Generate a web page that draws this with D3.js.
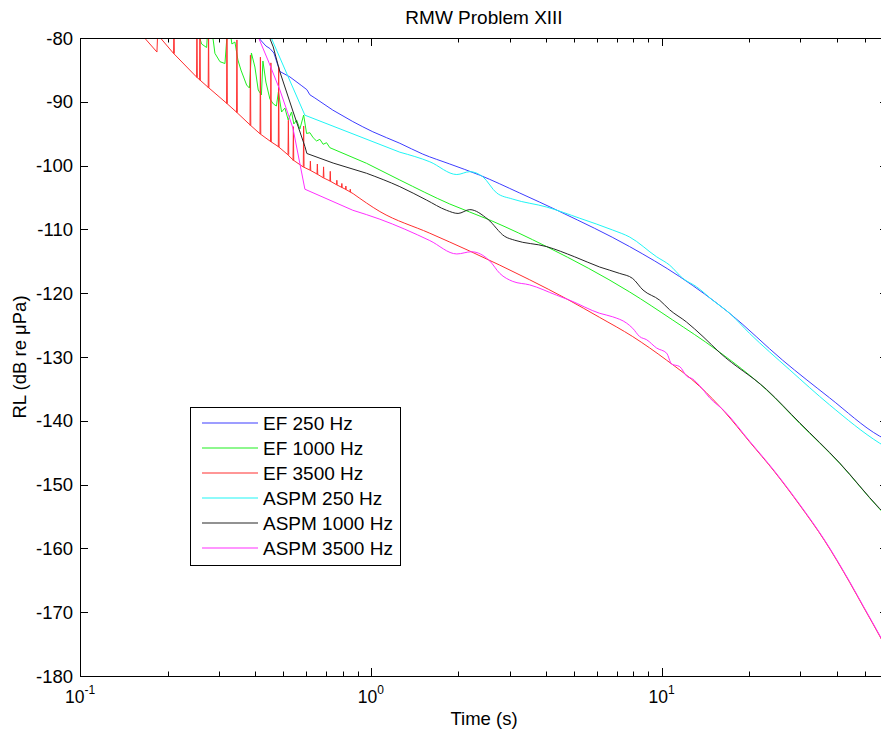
<!DOCTYPE html>
<html>
<head>
<meta charset="utf-8">
<script src="https://cdn.jsdelivr.net/npm/d3@7"></script>
<style>
  html, body { margin: 0; padding: 0; background: #fff; }
  svg { display: block; }
  text { font-family: "Liberation Sans", Arial, Helvetica, sans-serif; fill: #000; }
</style>
</head>
<body>
<script>
// ---------------- data (time in s, level in dB re 1 µPa) ----------------
const seriesNames = ["EF 250 Hz", "EF 1000 Hz", "EF 3500 Hz", "ASPM 250 Hz", "ASPM 1000 Hz", "ASPM 3500 Hz"];
const seriesColors = ["#3d3dff", "#1ff01f", "#ff2e2e", "#1ff5f5", "#262626", "#ff2eff"];

const ef250 = [[0.4025,-79.5],[0.4357,-81.25],[0.4497,-81.65],[0.4642,-82.35],[0.4867,-85.25],[0.5268,-86.1],
  [0.5792,-87.5],[0.6026,-88.1],[0.6171,-88.9],[0.642,-89.4],[0.740,-91.3],[0.867,-93.1],[1.016,-94.7],
  [1.258,-96.5],[1.509,-98.2],[1.868,-99.75],[2.369,-101.5],[3.251,-104.3],[4.462,-107.2],[7.762,-112.7],
  [11.53,-117.4],[17.13,-123.15],[26.05,-130.5],[37.78,-136.4],[56.13,-142.4],[60,-143.1]];

const ef1000 = [[0.2544,-79.06],[0.2619,-80.94],[0.2725,-81.49],[0.2749,-78.75],[0.2819,-78.75],[0.2871,-80.31],
  [0.2910,-82.4],[0.3028,-83.71],[0.3150,-84.0],[0.3213,-78.75],[0.3277,-78.75],[0.3329,-80.94],[0.3409,-80.63],
  [0.3491,-83.45],[0.3576,-85.02],[0.3740,-87.37],[0.3824,-87.84],[0.3885,-82.35],[0.3994,-84.55],[0.4100,-88.15],
  [0.4205,-88.93],[0.4255,-83.61],[0.4357,-86.9],[0.4497,-89.56],[0.4624,-90.34],[0.4735,-90.66],[0.4810,-88.46],
  [0.4933,-91.6],[0.5064,-90.97],[0.5198,-92.85],[0.5339,-91.6],[0.5437,-93.48],[0.5555,-92.85],[0.5702,-94.26],
  [0.5875,-92.07],[0.6012,-94.97],[0.6171,-94.84],[0.6335,-95.63],[0.6507,-96.14],[0.6679,-95.88],[0.6856,-96.66],
  [0.7043,-96.41],[0.7229,-97.19],[0.9665,-99.64],[1.258,-102.26],[1.868,-106.02],[2.564,-108.53],[4.026,-112.71],
  [7.762,-119.81],[10.91,-124.2],[15.45,-128.9],[22.95,-135.17],[29.8,-140.39],[40.9,-146.66],[56.13,-153.82],[60,-155.2]];

const ef3500 = [[0.1646,-79.7],[0.1839,-82.2],[0.1854,-78.0],[0.1891,-80.0],[0.2096,-82.4],[0.2514,-86.1],
  [0.2754,-87.7],[0.3188,-90.2],[0.3449,-91.6],[0.3839,-93.6],[0.4155,-95.0],[0.4515,-96.2],[0.4801,-97.0],
  [0.5185,-98.3],[0.5395,-99.1],[0.5852,-100.2],[0.6171,-100.7],[0.6522,-101.3],[0.6856,-101.9],[0.7229,-102.4],
  [0.7623,-103.0],[0.7932,-103.4],[0.8174,-103.7],[0.8468,-104.1],[0.8695,-104.4],[1.074,-107.2],[1.595,-110.6],
  [2.189,-113.4],[3.518,-117.9],[4.716,-120.9],[6.122,-123.8],[7.95,-126.8],[10.40,-130.5],[13.51,-134.6],
  [16.46,-138.6],[20.06,-143.3],[24.45,-148.0],[29.81,-153.2],[36.33,-158.8],[44.26,-165.3],[49.84,-169.5],
  [56.13,-173.7],[60,-176.2]];

// EF 3500 Hz narrow peaks: [time, base level, peak level]
const ef3500Peaks = [[0.2104,-82.45,-78],[0.2524,-86.2,-78],[0.2585,-86.6,-78],[0.2767,-87.8,-78],[0.3201,-90.3,-78],
  [0.3464,-91.7,-80.3],[0.3854,-93.7,-82.7],[0.4171,-95.05,-83.0],[0.4533,-96.3,-83.9],[0.4821,-97.1,-84.5],
  [0.5205,-98.3,-92.9],[0.5416,-99.2,-93.9],[0.5875,-100.2,-93.8],[0.6196,-100.7,-99.3],[0.6548,-101.35,-99.75],
  [0.6878,-101.9,-100.2],[0.7252,-102.45,-100.9],[0.7641,-103.0,-102.3],[0.7949,-103.45,-102.8],[0.8206,-103.75,-103.2],
  [0.8496,-104.15,-103.7]];

const aspm250 = [[0.4497,-79.5],[0.5933,-92.1],[1.258,-97.9],[1.595,-99.4],[1.975,-101.4],[2.189,-100.95],
  [2.426,-101.75],[2.710,-104.3],[3.076,-105.25],[4.026,-106.5],[5.226,-108.25],[6.785,-110.1],[7.762,-111.2],
  [9.612,-114.3],[10.65,-115.6],[11.81,-117.65],[13.19,-119.0],[14.98,-121.1],[17.13,-123.15],[20.06,-126.3],
  [27.54,-132.0],[37.78,-137.5],[56.13,-143.5],[60,-144.3]];

const aspm1000 = [[0.4462,-79.7],[0.4617,-81.4],[0.4867,-85.3],[0.5408,-91.6],[0.5933,-97.0],[0.6026,-98.1],
  [0.742,-99.6],[0.9665,-101.2],[1.258,-103.3],[1.554,-105.4],[1.82,-107.0],[1.995,-107.5],[2.189,-106.9],
  [2.524,-108.4],[2.887,-111.1],[3.125,-111.7],[4.026,-112.7],[5.023,-114.3],[6.122,-115.9],[7.174,-116.9],
  [7.95,-117.7],[8.625,-119.5],[9.843,-121.1],[10.65,-122.6],[12.16,-124.5],[13.87,-126.8],[15.82,-129.3],
  [22.95,-135.1],[29.8,-140.3],[40.9,-146.6],[56.13,-153.75],[60,-155.1]];

const aspm3500 = [[0.4089,-79.7],[0.4426,-83.45],[0.4867,-88.15],[0.5395,-94.1],[0.5933,-103.7],[0.867,-107.0],
  [1.074,-108.4],[1.595,-111.75],[1.975,-113.85],[2.218,-113.5],[2.564,-114.95],[2.776,-116.9],[3.076,-118.15],
  [3.518,-118.7],[4.346,-120.3],[4.829,-121.1],[6.122,-123.15],[6.785,-123.7],[7.582,-124.7],[7.95,-125.5],
  [8.402,-126.8],[8.881,-127.3],[9.612,-128.6],[10.40,-129.4],[10.82,-131.1],[11.53,-131.5],[12.19,-133.0],
  [12.78,-133.45],[13.51,-134.5],[14.62,-136.4],[16.46,-138.5],[20.06,-143.2],[24.45,-147.9],[29.81,-153.1],
  [36.33,-158.7],[44.26,-165.2],[49.84,-169.4],[56.13,-173.6],[60,-176.1]];

const xDomain = [0.1, 60];
const yDomain = [-180, -80];
const xMajorTicks = [0.1, 1, 10];
const xMajorExp = ["-1", "0", "1"];
const xMinorTicks = [0.2,0.3,0.4,0.5,0.6,0.7,0.8,0.9,2,3,4,5,6,7,8,9,20,30,40,50];
const yTicks = [-180,-170,-160,-150,-140,-130,-120,-110,-100,-90,-80];

const titleText = "RMW Problem XIII";
const xLabelText = "Time (s)";
const yLabelText = "RL (dB re \u03bcPa)";

// ---------------- layout ----------------
const W = 881, H = 731;
const L = 80, R = 888, T = 38, B = 676;
const tSplit = 0.85; // sharp (linear) segments before this time, smooth after

const svg = d3.select("body").append("svg").attr("width", W).attr("height", H);
svg.append("rect").attr("width", W).attr("height", H).attr("fill", "#fff");

const x = d3.scaleLog().domain(xDomain).range([L, R]);
const y = d3.scaleLinear().domain(yDomain).range([B, T]);

svg.append("defs").append("clipPath").attr("id", "plotclip")
  .append("rect").attr("x", L).attr("y", T).attr("width", R - L).attr("height", B - T);

const plot = svg.append("g").attr("clip-path", "url(#plotclip)");
const smooth = d3.line().x(d => x(d[0])).y(d => y(d[1])).curve(d3.curveMonotoneX);
const straight = d3.line().x(d => x(d[0])).y(d => y(d[1]));

const allSeries = [ef250, ef1000, ef3500, aspm250, aspm1000, aspm3500];
allSeries.forEach((s, i) => {
  let k = s.findIndex(d => d[0] >= tSplit);
  if (k < 1) k = 1;
  const early = s.slice(0, k + 1);
  const late = s.slice(k);
  const g = plot.append("g").attr("fill", "none").attr("stroke", seriesColors[i])
    .attr("stroke-width", 1).attr("stroke-linejoin", "round");
  g.append("path").attr("d", straight(early));
  g.append("path").attr("d", smooth(late));
  if (i === 2) {
    g.selectAll(null).data(ef3500Peaks).enter().append("path")
      .attr("d", d => straight([[d[0] * 0.997, d[1]], [d[0], d[2]], [d[0] * 1.003, d[1]]]));
  }
});

// ---------------- axes (box with inward ticks) ----------------
const axes = svg.append("g").attr("stroke", "#000").attr("stroke-width", 1).attr("fill", "none");
axes.append("rect").attr("x", L + 0.5).attr("y", T + 0.5).attr("width", R - L).attr("height", B - T);

const xMaj = 8, xMin = 4.5, yLen = 8;
xMajorTicks.forEach(v => {
  const px = Math.round(x(v)) + 0.5;
  axes.append("line").attr("x1", px).attr("x2", px).attr("y1", B).attr("y2", B - xMaj);
  axes.append("line").attr("x1", px).attr("x2", px).attr("y1", T).attr("y2", T + xMaj);
});
xMinorTicks.forEach(v => {
  const px = Math.round(x(v)) + 0.5;
  axes.append("line").attr("x1", px).attr("x2", px).attr("y1", B).attr("y2", B - xMin);
  axes.append("line").attr("x1", px).attr("x2", px).attr("y1", T).attr("y2", T + xMin);
});
yTicks.forEach(v => {
  const py = Math.round(y(v)) + 0.5;
  axes.append("line").attr("x1", L).attr("x2", L + yLen).attr("y1", py).attr("y2", py);
  axes.append("line").attr("x1", R).attr("x2", R - yLen).attr("y1", py).attr("y2", py);
});

// tick labels
yTicks.forEach(v => {
  svg.append("text").attr("x", L - 7).attr("y", y(v) + 6.5)
    .attr("text-anchor", "end").attr("font-size", 18.5).text(String(v));
});
xMajorTicks.forEach((v, i) => {
  const t = svg.append("text").attr("x", x(v)).attr("y", 703).attr("text-anchor", "middle").attr("font-size", 17.5);
  t.append("tspan").text("10");
  t.append("tspan").attr("font-size", 12).attr("dy", -9).text(xMajorExp[i]);
});

// titles
svg.append("text").attr("x", (L + R) / 2).attr("y", 24).attr("text-anchor", "middle")
  .attr("font-size", 19).text(titleText);
svg.append("text").attr("x", (L + R) / 2).attr("y", 725).attr("text-anchor", "middle")
  .attr("font-size", 18.5).text(xLabelText);
svg.append("text").attr("transform", `translate(26,${(T + B) / 2}) rotate(-90)`)
  .attr("text-anchor", "middle").attr("font-size", 18.5).text(yLabelText);

// ---------------- legend ----------------
const lg = svg.append("g");
lg.append("rect").attr("x", 190.5).attr("y", 407.5).attr("width", 210).attr("height", 158)
  .attr("fill", "#fff").attr("stroke", "#000").attr("stroke-width", 1);
seriesNames.forEach((name, i) => {
  const ry = 423 + i * 25;
  lg.append("line").attr("x1", 202).attr("x2", 258).attr("y1", ry).attr("y2", ry)
    .attr("stroke", seriesColors[i]).attr("stroke-width", 1.2);
  lg.append("text").attr("x", 263).attr("y", ry + 7).attr("font-size", 19).text(name);
});
</script>
</body>
</html>
